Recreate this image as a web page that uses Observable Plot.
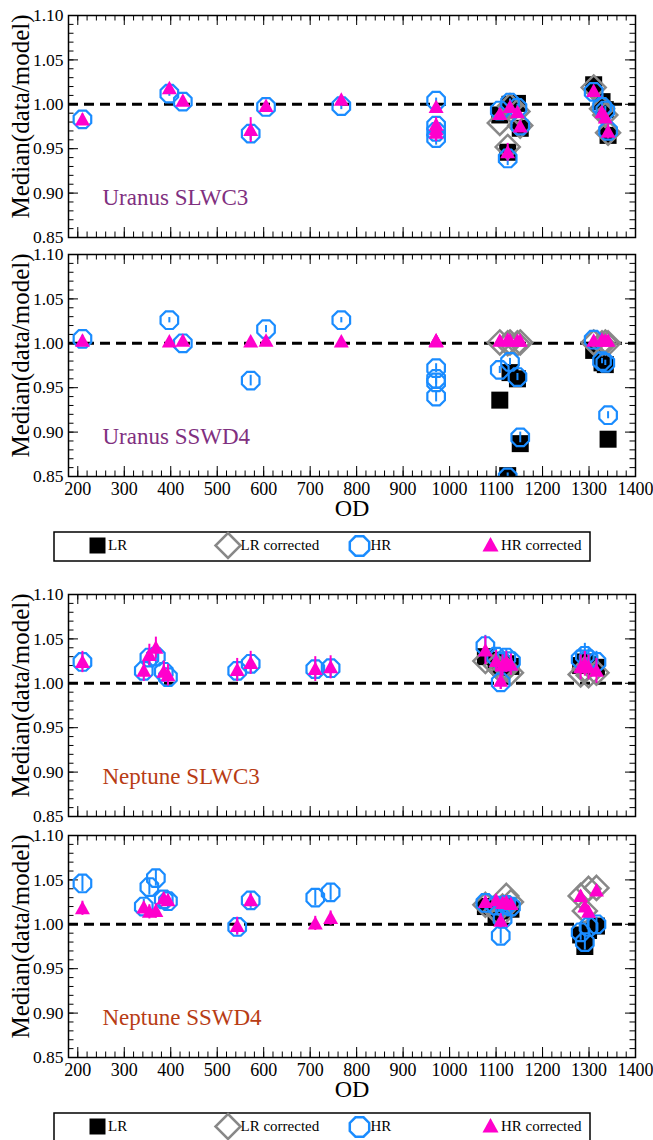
<!DOCTYPE html>
<html><head><meta charset="utf-8">
<script src="https://cdn.jsdelivr.net/npm/d3@7"></script>
<script src="https://cdn.jsdelivr.net/npm/@observablehq/plot@0.6"></script>
<style>
body{margin:0;background:#fff;}
#wrap{position:relative;width:653px;height:1140px;overflow:hidden;font-family:"Liberation Serif","Times New Roman",serif;}
</style></head><body><div id="wrap"></div>
<script>
// ---------- tick values ----------
const xTicks = [200, 300, 400, 500, 600, 700, 800, 900, 1000, 1100, 1200, 1300, 1400];
const yTicks = [0.85, 0.90, 0.95, 1.00, 1.05, 1.10];
const legendLabels = ["LR", "LR corrected", "HR", "HR corrected"];
const yLabel = "Median(data/model)";
const xLabel = "OD";

// ---------- Uranus ----------
const uranusOD = [210, 397, 426, 572, 605, 767, 971, 971, 971, 971, 1108, 1125, 1130, 1146, 1152, 1310, 1328, 1335, 1341];
const uranusLR_OD = [1108, 1125, 1130, 1146, 1152, 1310, 1328, 1335, 1341];

const uSLW_HR    = [0.983, 1.012, 1.003, 0.967, 0.997, 0.998, 1.004, 0.976, 0.969, 0.962, 0.993, 0.939, 1.002, 0.996, 0.976, 1.014, 0.997, 0.993, 0.970];
const uSLW_HRerr = [0.004, 0.003, 0.003, 0.008, 0.003, 0.004, 0.003, 0.006, 0.006, 0.008, 0.004, 0.008, 0.004, 0.004, 0.004, 0.004, 0.005, 0.005, 0.006];
const uSLW_HRc   = [0.983, 1.018, 1.004, 0.971, 0.998, 1.005, 0.997, 0.977, 0.972, 0.968, 0.989, 0.946, 0.997, 0.991, 0.975, 1.015, 0.991, 0.985, 0.969];
const uSLW_HRcErr= [0.006, 0.005, 0.004, 0.014, 0.004, 0.005, 0.004, 0.008, 0.008, 0.010, 0.005, 0.010, 0.005, 0.005, 0.006, 0.005, 0.006, 0.006, 0.008];
const uSLW_LR    = [0.988, 0.946, 1.000, 1.001, 0.973, 1.022, 1.003, 0.994, 0.965];
const uSLW_LRc   = [0.979, 0.952, 0.998, 0.992, 0.976, 1.019, 0.995, 0.988, 0.968];

const uSSW_HR    = [1.005, 1.026, 1.000, 0.958, 1.016, 1.026, 0.972, 0.960, 0.956, 0.940, 0.970, 0.849, 0.979, 0.962, 0.894, 1.004, 0.980, 0.978, 0.919];
const uSSW_HRerr = [0.004, 0.003, 0.003, 0.006, 0.004, 0.003, 0.005, 0.006, 0.006, 0.006, 0.004, 0.005, 0.004, 0.004, 0.006, 0.003, 0.003, 0.003, 0.004];
const uSSW_HRc   = [1.003, 1.002, 1.003, 1.002, 1.003, 1.002, 1.003, 1.002, 1.003, 1.003, 1.003, 1.004, 1.003, 1.003, 1.003, 1.003, 1.004, 1.003, 1.003];
const uSSW_HRcErr= [0.001, 0.001, 0.001, 0.001, 0.001, 0.001, 0.001, 0.001, 0.001, 0.001, 0.001, 0.001, 0.001, 0.001, 0.001, 0.001, 0.001, 0.001, 0.001];
const uSSW_LR    = [0.936, 0.851, 0.967, 0.960, 0.887, 0.992, 0.978, 0.976, 0.892];
const uSSW_LRc   = [1.001, 1.000, 1.001, 1.000, 1.001, 1.001, 1.000, 1.001, 1.000];

// ---------- Neptune ----------
const neptuneOD = [210, 342, 354, 368, 385, 394, 543, 572, 711, 744, 1077, 1100, 1110, 1114, 1122, 1132, 1282, 1291, 1299, 1316];
const neptuneLR_OD = [1077, 1100, 1110, 1114, 1122, 1132, 1282, 1291, 1299, 1316];

const nSLW_HR    = [1.024, 1.014, 1.029, 1.030, 1.013, 1.007, 1.014, 1.022, 1.016, 1.017, 1.042, 1.030, 1.001, 1.024, 1.029, 1.025, 1.027, 1.031, 1.027, 1.024];
const nSLW_HRerr = [0.008, 0.008, 0.010, 0.010, 0.008, 0.008, 0.010, 0.010, 0.010, 0.010, 0.012, 0.010, 0.008, 0.010, 0.010, 0.010, 0.012, 0.014, 0.012, 0.012];
const nSLW_HRc   = [1.024, 1.014, 1.032, 1.040, 1.013, 1.009, 1.015, 1.023, 1.016, 1.018, 1.037, 1.025, 1.003, 1.020, 1.024, 1.021, 1.018, 1.022, 1.018, 1.014];
const nSLW_HRcErr= [0.012, 0.012, 0.012, 0.012, 0.012, 0.012, 0.013, 0.013, 0.014, 0.013, 0.016, 0.012, 0.010, 0.012, 0.012, 0.012, 0.014, 0.014, 0.014, 0.014];
const nSLW_LR    = [1.030, 1.026, 1.018, 1.020, 1.022, 1.019, 1.020, 1.024, 1.021, 1.018];
const nSLW_LRc   = [1.025, 1.020, 1.015, 1.013, 1.016, 1.012, 1.010, 1.016, 1.009, 1.012];

const nSSW_HR    = [1.046, 1.020, 1.042, 1.052, 1.028, 1.026, 0.997, 1.027, 1.030, 1.036, 1.024, 1.021, 0.987, 1.006, 1.022, 1.020, 0.991, 0.980, 0.997, 1.000];
const nSSW_HRerr = [0.009, 0.008, 0.009, 0.009, 0.008, 0.008, 0.009, 0.009, 0.009, 0.009, 0.008, 0.008, 0.009, 0.008, 0.008, 0.008, 0.009, 0.009, 0.009, 0.008];
const nSSW_HRc   = [1.018, 1.019, 1.014, 1.015, 1.029, 1.027, 0.998, 1.027, 1.001, 1.007, 1.025, 1.027, 1.004, 1.024, 1.025, 1.023, 1.032, 1.020, 1.014, 1.038];
const nSSW_HRcErr= [0.008, 0.006, 0.008, 0.008, 0.006, 0.006, 0.010, 0.007, 0.008, 0.008, 0.005, 0.005, 0.008, 0.005, 0.005, 0.005, 0.006, 0.006, 0.006, 0.006];
const nSSW_LR    = [1.020, 1.008, 1.015, 1.018, 1.020, 1.017, 0.988, 0.975, 0.993, 0.998];
const nSSW_LRc   = [1.022, 1.015, 1.010, 1.020, 1.032, 1.025, 1.032, 1.015, 1.040, 1.041];

// ---------- styling ----------
const FONT = '"Liberation Serif","Times New Roman",serif';
const BLUE = "#1a8cff", PINK = "#ff00cc", GRAY = "#888888";
const W = 653, ML = 68, MR = 18, FH = 222, FW = W - ML - MR;
const xMinor = d3.range(180, 1401, 20);
const yMinor = d3.range(85, 111).map(d => d / 100);

// custom symbols (size = pi r^2)
const rad = s => Math.sqrt(s / Math.PI);
const squareSym = {draw(c, s){const r = rad(s); c.moveTo(-r,-r); c.lineTo(r,-r); c.lineTo(r,r); c.lineTo(-r,r); c.closePath();}};
const diamondSym = {draw(c, s){const r = rad(s); c.moveTo(0,-r); c.lineTo(r,0); c.lineTo(0,r); c.lineTo(-r,0); c.closePath();}};
const octSym = {draw(c, s){const r = rad(s); for (let i = 0; i < 8; i++){const a = Math.PI/8 + i*Math.PI/4; const x = r*Math.cos(a), y = r*Math.sin(a); if (i) c.lineTo(x,y); else c.moveTo(x,y);} c.closePath();}};
const triSym = {draw(c, s){const r = rad(s); c.moveTo(0,-r); c.lineTo(r,0.8*r); c.lineTo(-r,0.8*r); c.closePath();}};

const wrap = document.getElementById("wrap");

function panel({top, mt, mb, showX, label, labelColor, od, lrOd, LR, LRc, HR, HRerr, HRc, HRcErr}) {
  const height = mt + FH + mb;
  const hr = od.map((x, i) => ({od: x, v: HR[i], e: HRerr[i]}));
  const hrc = od.map((x, i) => ({od: x, v: HRc[i], e: HRcErr[i]}));
  const lr = lrOd.map((x, i) => ({od: x, v: LR[i]}));
  const lrc = lrOd.map((x, i) => ({od: x, v: LRc[i]}));
  const marks = [
    Plot.ruleY([1], {stroke: "#000", strokeWidth: 3, strokeDasharray: "10,6"}),
    Plot.ruleX(xMinor, {insetBottom: FH - 5.5, stroke: "#000", strokeWidth: 1}),
    Plot.ruleX(xMinor, {insetTop: FH - 5.5, stroke: "#000", strokeWidth: 1}),
    Plot.ruleX(xTicks, {insetBottom: FH - 10, stroke: "#000", strokeWidth: 1}),
    Plot.ruleX(xTicks, {insetTop: FH - 10, stroke: "#000", strokeWidth: 1}),
    Plot.ruleY(yMinor, {insetRight: FW - 5.5, stroke: "#000", strokeWidth: 1}),
    Plot.ruleY(yMinor, {insetLeft: FW - 5.5, stroke: "#000", strokeWidth: 1}),
    Plot.ruleY(yTicks, {insetRight: FW - 10, stroke: "#000", strokeWidth: 1}),
    Plot.ruleY(yTicks, {insetLeft: FW - 10, stroke: "#000", strokeWidth: 1}),
    Plot.dot(lr, {x: "od", y: "v", symbol: squareSym, r: 8.5, fill: "#000", stroke: "none", clip: true}),
    Plot.dot(lrc, {x: "od", y: "v", symbol: diamondSym, r: 12, fill: "none", stroke: GRAY, strokeWidth: 2.5, clip: true}),
    Plot.ruleX(hr, {x: "od", y1: d => d.v - d.e, y2: d => d.v + d.e, stroke: BLUE, strokeWidth: 2, clip: true}),
    Plot.dot(hr, {x: "od", y: "v", symbol: octSym, r: 9.5, fill: "none", stroke: BLUE, strokeWidth: 2.2, clip: true}),
    Plot.ruleX(hrc, {x: "od", y1: d => d.v - d.e, y2: d => d.v + d.e, stroke: PINK, strokeWidth: 2, clip: true}),
    Plot.dot(hrc, {x: "od", y: "v", symbol: triSym, r: 7.5, fill: PINK, stroke: "none", clip: true}),
    Plot.frame({stroke: "#000", strokeWidth: 1.5}),
    Plot.axisY(yTicks, {tickSize: 0, tickPadding: 5, tickFormat: ".2f", fontSize: 17.5, label: null}),
    Plot.text([label], {frameAnchor: "bottom-left", dx: 34, dy: -33, lineAnchor: "bottom", textAnchor: "start", fill: labelColor, fontSize: 23}),
    Plot.text([yLabel], {frameAnchor: "left", dx: -48, dy: -10, rotate: -90, fontSize: 25, lineAnchor: "middle", textAnchor: "middle", fill: "#000"})
  ];
  if (showX) {
    marks.push(Plot.axisX(xTicks, {tickSize: 0, tickPadding: 6, fontSize: 18, tickFormat: d => String(d), label: null}));
    marks.push(Plot.text([xLabel], {frameAnchor: "bottom", dy: 39, lineAnchor: "bottom", fontSize: 24, fill: "#000"}));
  }
  const svg = Plot.plot({
    width: W, height, marginLeft: ML, marginRight: MR, marginTop: mt, marginBottom: mb,
    x: showX ? {domain: [180, 1400]} : {domain: [180, 1400], axis: null},
    y: {domain: [0.85, 1.10]},
    style: {fontFamily: FONT, background: "transparent", color: "#000", overflow: "visible"},
    marks
  });
  svg.style.position = "absolute";
  svg.style.left = "0px";
  svg.style.top = top + "px";
  wrap.appendChild(svg);
}

function legend(top) {
  const svg = d3.create("svg").attr("width", 540).attr("height", 32)
    .style("position", "absolute").style("left", "53px").style("top", top + "px").style("overflow", "visible");
  svg.append("rect").attr("x", 1).attr("y", 1).attr("width", 536).attr("height", 29)
    .attr("fill", "none").attr("stroke", "#000").attr("stroke-width", 1.5);
  const items = [
    {sym: squareSym, r: 8, fill: "#000", stroke: "none", sw: 0, cx: 44.5, cy: 14.5, tx: 55},
    {sym: diamondSym, r: 12.5, fill: "none", stroke: GRAY, sw: 2.5, cx: 175, cy: 14.5, tx: 187.5},
    {sym: octSym, r: 10.5, fill: "none", stroke: BLUE, sw: 2.5, cx: 306.5, cy: 15, tx: 317.5},
    {sym: triSym, r: 8, fill: PINK, stroke: "none", sw: 0, cx: 437.5, cy: 14, tx: 448}
  ];
  items.forEach((it, i) => {
    svg.append("path").attr("d", d3.symbol(it.sym, Math.PI * it.r * it.r)())
      .attr("transform", `translate(${it.cx},${it.cy})`)
      .attr("fill", it.fill).attr("stroke", it.stroke).attr("stroke-width", it.sw);
    svg.append("text").attr("x", it.tx).attr("y", 19).attr("font-family", FONT)
      .attr("font-size", 15).attr("fill", "#000").text(legendLabels[i]);
  });
  wrap.appendChild(svg.node());
}

panel({top: 0, mt: 15, mb: 13, showX: false, label: "Uranus SLWC3", labelColor: "#803080",
  od: uranusOD, lrOd: uranusLR_OD, LR: uSLW_LR, LRc: uSLW_LRc, HR: uSLW_HR, HRerr: uSLW_HRerr, HRc: uSLW_HRc, HRcErr: uSLW_HRcErr});
panel({top: 240, mt: 14, mb: 46, showX: true, label: "Uranus SSWD4", labelColor: "#803080",
  od: uranusOD, lrOd: uranusLR_OD, LR: uSSW_LR, LRc: uSSW_LRc, HR: uSSW_HR, HRerr: uSSW_HRerr, HRc: uSSW_HRc, HRcErr: uSSW_HRcErr});
legend(531);
panel({top: 580, mt: 14, mb: 14, showX: false, label: "Neptune SLWC3", labelColor: "#b83c14",
  od: neptuneOD, lrOd: neptuneLR_OD, LR: nSLW_LR, LRc: nSLW_LRc, HR: nSLW_HR, HRerr: nSLW_HRerr, HRc: nSLW_HRc, HRcErr: nSLW_HRcErr});
panel({top: 821, mt: 14, mb: 46, showX: true, label: "Neptune SSWD4", labelColor: "#b83c14",
  od: neptuneOD, lrOd: neptuneLR_OD, LR: nSSW_LR, LRc: nSSW_LRc, HR: nSSW_HR, HRerr: nSSW_HRerr, HRc: nSSW_HRc, HRcErr: nSSW_HRcErr});
legend(1112);
</script></body></html>
